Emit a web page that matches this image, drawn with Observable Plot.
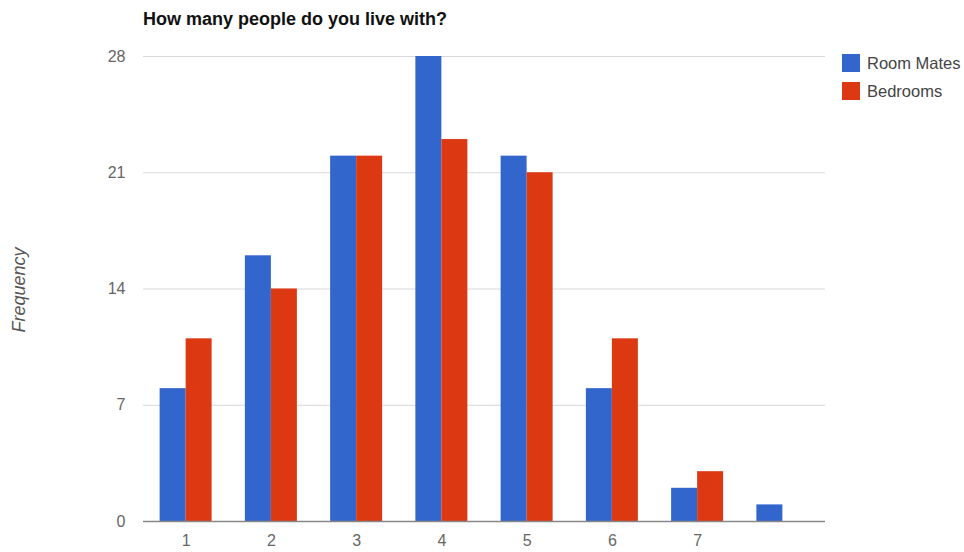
<!DOCTYPE html>
<html><head><meta charset="utf-8">
<script src="https://cdn.jsdelivr.net/npm/d3@7"></script>
<script src="https://cdn.jsdelivr.net/npm/@observablehq/plot@0.6"></script>
<style>
body{margin:0;background:#fff;font-family:"Liberation Sans",Arial,sans-serif;}
#wrap{position:relative;width:964px;height:552px;}
#title{position:absolute;left:143px;top:10px;line-height:18px;font-weight:bold;font-size:18px;color:#111;}
#ylab{position:absolute;left:19px;top:290px;transform:translate(-50%,-50%) rotate(-90deg);font-style:italic;font-size:18px;color:#555;white-space:nowrap;}
#legend{position:absolute;left:842px;top:54px;font-size:16.5px;color:#444;}
.li{display:flex;align-items:center;height:18px;margin-bottom:10px;}
.sw{width:18px;height:18px;margin-right:7px;}
</style></head><body>
<div id="wrap"><div id="chart"></div>
<div id="title">How many people do you live with?</div>
<div id="ylab">Frequency</div>
<div id="legend"></div></div>
<script>
const categories = [1, 2, 3, 4, 5, 6, 7, 8];
const tickLabels = ["1", "2", "3", "4", "5", "6", "7", ""];
const seriesNames = ["Room Mates", "Bedrooms"];
const seriesColors = ["#3366cc", "#dc3912"];
const roomMates = [8, 16, 22, 28, 22, 8, 2, 1];
const bedrooms = [11, 14, 22, 23, 21, 11, 3, 0];
const yTicks = [0, 7, 14, 21, 28];

const bw = 0.305;
const rows = [];
categories.forEach((c, i) => {
  rows.push({cat: c, series: seriesNames[0], value: roomMates[i], x1: c - bw, x2: c});
  if (bedrooms[i] > 0) rows.push({cat: c, series: seriesNames[1], value: bedrooms[i], x1: c, x2: c + bw});
});

const chart = Plot.plot({
  width: 964, height: 552,
  marginLeft: 143, marginRight: 139, marginTop: 56, marginBottom: 31,
  style: {fontFamily: "'Liberation Sans', Arial, sans-serif", fontSize: "16px", color: "#666", background: "transparent"},
  x: {domain: [0.5, 8.5], ticks: categories, tickFormat: (d) => tickLabels[d - 1], tickSize: 0, tickPadding: 13, label: null},
  y: {domain: [0, 28], ticks: yTicks, tickSize: 0, tickPadding: 18, label: null},
  color: {domain: seriesNames, range: seriesColors},
  marks: [
    Plot.ruleY(yTicks.filter(d => d > 0), {stroke: "#d9d9d9"}),
    Plot.rectY(rows, {x1: "x1", x2: "x2", y: "value", fill: "series"}),
    Plot.ruleY([0], {stroke: "#888", strokeWidth: 1.5})
  ]
});
document.getElementById("chart").appendChild(chart);

const leg = document.getElementById("legend");
seriesNames.forEach((n, i) => {
  const d = document.createElement("div"); d.className = "li";
  d.innerHTML = `<span class="sw" style="background:${seriesColors[i]}"></span><span>${n}</span>`;
  leg.appendChild(d);
});
</script></body></html>
